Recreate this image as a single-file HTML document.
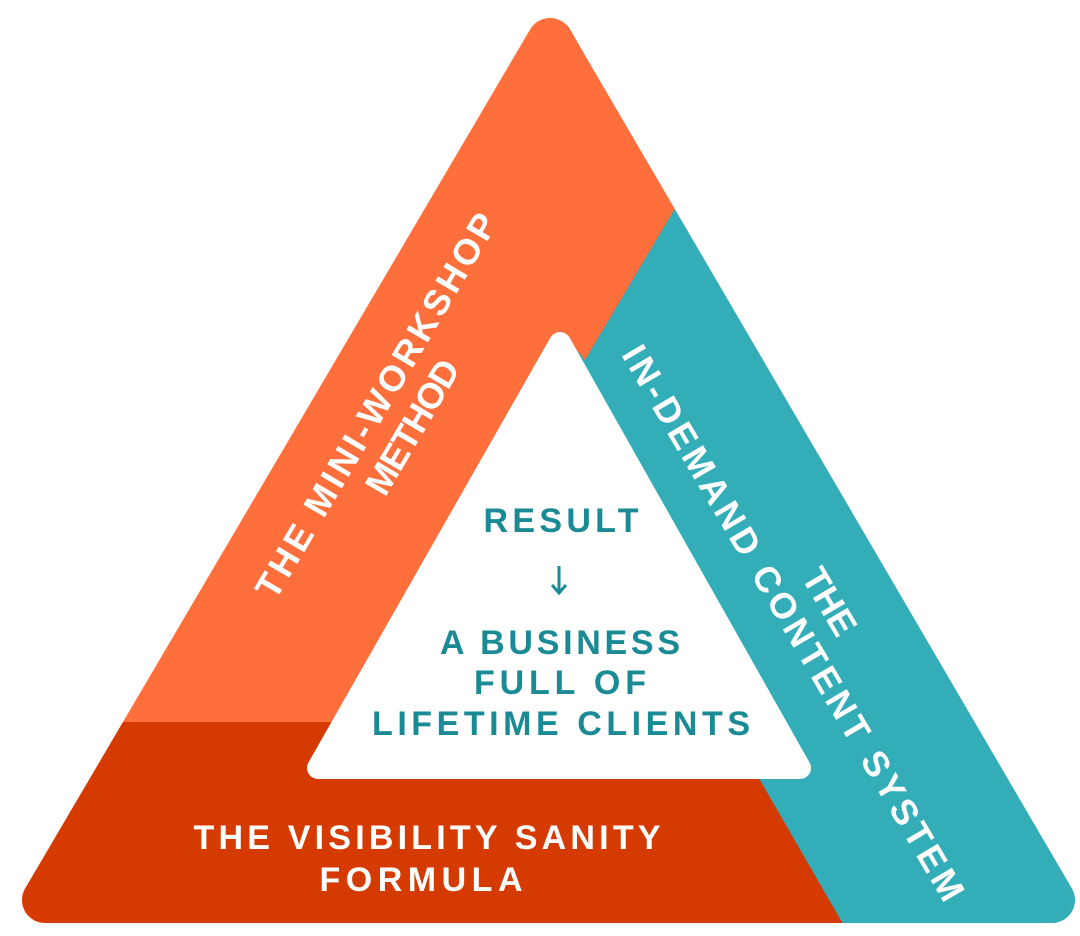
<!DOCTYPE html>
<html><head><meta charset="utf-8"><style>
html,body{margin:0;padding:0;background:#fff;}
svg{display:block;}
text{font-family:"Liberation Sans",sans-serif;font-weight:bold;}
</style></head><body>
<svg width="1080" height="936" viewBox="0 0 1080 936" xmlns="http://www.w3.org/2000/svg">
<defs>
<mask id="m">
<rect width="1080" height="936" fill="#000"/>
<path d="M550,41 L1052,900 L45,900 Z" fill="#fff" stroke="#fff" stroke-width="46" stroke-linejoin="round"/>
</mask>
</defs>
<g mask="url(#m)">
<rect width="1080" height="936" fill="#D53A00"/>
<polygon points="550,0 0,722 337,722 585,360 680,200" fill="#FF6F3C"/>
<polygon points="680,200 1100,936 850,936 760,780 560,330 585,360" fill="#33AEB8"/>
</g>
<path d="M560,343 L800,768 L318,768 Z" fill="#fff" stroke="#fff" stroke-width="22" stroke-linejoin="round"/>
<g fill="#fff" font-size="36" text-anchor="middle">
<g transform="translate(392,415) rotate(-59.5)">
<text x="0" y="-6" textLength="440" lengthAdjust="spacing">THE MINI-WORKSHOP</text>
<text x="0" y="36" textLength="150" lengthAdjust="spacing">METHOD</text>
</g>
<g transform="translate(812,612) rotate(59.5)">
<text x="0" y="-8">THE</text>
<text x="0" y="34" textLength="638" lengthAdjust="spacing">IN-DEMAND CONTENT SYSTEM</text>
</g>
<text x="427" y="849" font-size="34" textLength="467" lengthAdjust="spacing">THE VISIBILITY SANITY</text>
<text x="421" y="891" font-size="34" textLength="203" lengthAdjust="spacing">FORMULA</text>
</g>
<g fill="#1A8A94" font-size="34" text-anchor="middle">
<text x="561" y="532" textLength="155" lengthAdjust="spacing">RESULT</text>
<text x="560" y="654" textLength="240" lengthAdjust="spacing">A BUSINESS</text>
<text x="560" y="694" textLength="172" lengthAdjust="spacing">FULL OF</text>
<text x="561" y="735" textLength="378" lengthAdjust="spacing">LIFETIME CLIENTS</text>
</g>
<g stroke="#1A8A94" stroke-width="3" fill="none">
<line x1="559" y1="566" x2="559" y2="592"/>
<polyline points="552,585 559,593 566,585"/>
</g>
</svg>
</body></html>
